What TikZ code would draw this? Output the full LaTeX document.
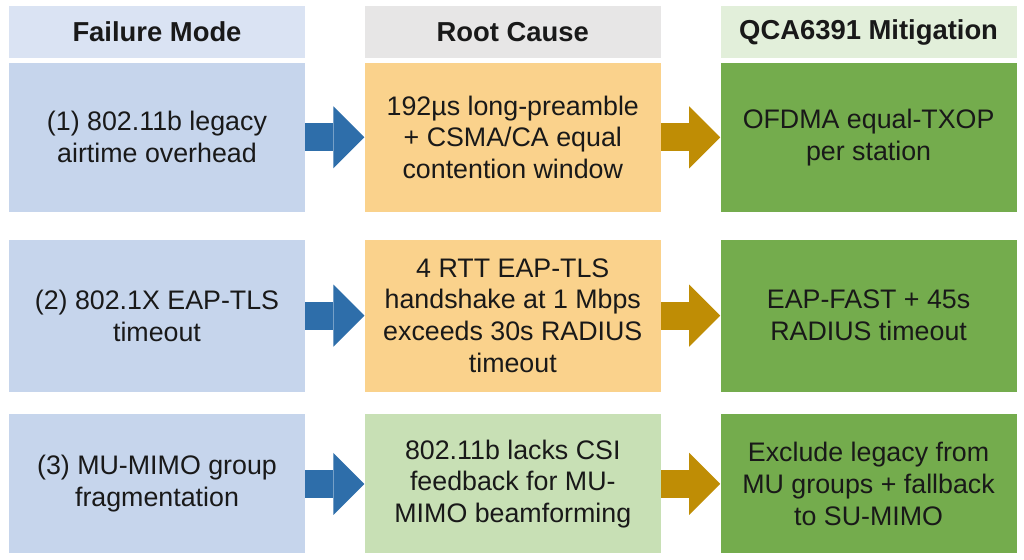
\documentclass[tikz,border=0pt]{standalone}
\usepackage{fontspec}
\setmainfont{Liberation Sans}
\usepackage{tikz}
\usetikzlibrary{arrows.meta, positioning}
\usepackage{xcolor}
\definecolor{hdrblue}{RGB}{218,227,243}
\definecolor{hdrgray}{RGB}{231,230,230}
\definecolor{hdrgreen}{RGB}{226,239,218}
\definecolor{cellblue}{RGB}{198,213,236}
\definecolor{cellgold}{RGB}{250,210,140}
\definecolor{cellsage}{RGB}{200,224,181}
\definecolor{cellgreen}{RGB}{116,172,77}
\definecolor{flowblue}{RGB}{46,110,170}
\definecolor{flowgold}{RGB}{191,141,5}
\newcommand{\hdfont}{\fontsize{13.7}{16}\selectfont\bfseries}
\newcommand{\cellfont}{\fontsize{13.4}{15.9}\selectfont}

\begin{document}
\begin{tikzpicture}[
    x=0.5pt, y=-0.5pt,
    node distance=2pt and 29.5pt,
    head/.style={rectangle, fill=#1, minimum width=148pt, minimum height=26pt, inner sep=0pt, font=\hdfont, text=black!90},
    cell/.style={rectangle, fill=#1, minimum width=148pt, inner sep=2pt, align=center, font=\cellfont, text=black!90},
    flow/.style={-{Triangle[length=15.5pt, width=31pt, line width=0pt]}, line width=14pt, draw=#1},
]
    \useasboundingbox[fill=white] (0,0) rectangle (1024,559);

    % Column headers
    \node[head=hdrblue] (fmh) at (157,32) {Failure Mode};
    \node[head=hdrgray, right=of fmh] (rch) {Root Cause};
    \node[head=hdrgreen, right=of rch] (mth) {QCA6391 Mitigation};

    % Row 1
    \node[cell=cellblue, minimum height=74.5pt, below=2pt of fmh] (fm1) {(1) 802.11b legacy\\airtime overhead};
    \node[cell=cellgold, minimum height=74.5pt, right=of fm1] (rc1) {192µs long-preamble\\+ CSMA/CA equal\\contention window};
    \node[cell=cellgreen, minimum height=74.5pt, right=of rc1] (mt1) {OFDMA equal-TXOP\\per station};

    % Row 2
    \node[cell=cellblue, minimum height=76pt, below=13.5pt of fm1] (fm2) {(2) 802.1X EAP-TLS\\timeout};
    \node[cell=cellgold, minimum height=76pt, right=of fm2] (rc2) {4 RTT EAP-TLS\\handshake at 1 Mbps\\exceeds 30s RADIUS\\timeout};
    \node[cell=cellgreen, minimum height=76pt, right=of rc2] (mt2) {EAP-FAST + 45s\\RADIUS timeout};

    % Row 3
    \node[cell=cellblue, minimum height=69.5pt, below=11pt of fm2] (fm3) {(3) MU-MIMO group\\fragmentation};
    \node[cell=cellsage, minimum height=69.5pt, right=of fm3] (rc3) {802.11b lacks CSI\\feedback for MU-\\MIMO beamforming};
    \node[cell=cellgreen, minimum height=69.5pt, right=of rc3] (mt3) {Exclude legacy from\\MU groups + fallback\\to SU-MIMO};

    % Arrows
    \draw[flow=flowblue] (fm1) -- (rc1);
    \draw[flow=flowblue] (fm2) -- (rc2);
    \draw[flow=flowblue] (fm3) -- (rc3);
    \draw[flow=flowgold] (rc1) -- (mt1);
    \draw[flow=flowgold] (rc2) -- (mt2);
    \draw[flow=flowgold] (rc3) -- (mt3);

\end{tikzpicture}
\end{document}
